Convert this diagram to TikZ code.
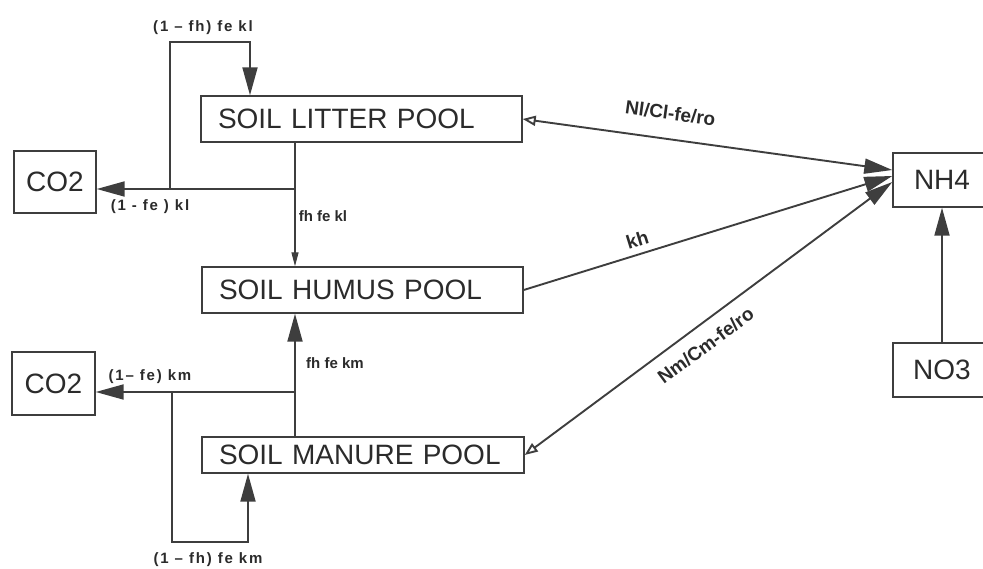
\documentclass[tikz,border=0pt]{standalone}
\usepackage{fontspec}
\setmainfont{Liberation Sans}
\usetikzlibrary{arrows.meta,calc}
\definecolor{InkGray}{RGB}{62,62,62}

\begin{document}
\begin{tikzpicture}[x=1pt, y=-1pt,
  box/.style={draw=InkGray, line width=1.4pt, inner sep=0pt, text=InkGray!70!black,
    font=\fontsize{28}{30}\selectfont},
  pool/.style={box, inner xsep=17pt, text width=287pt, align=left, minimum height=46pt},
  lbl/.style={text=InkGray!70!black, inner sep=0pt, font=\bfseries\fontsize{15}{18}\selectfont},
  wlbl/.style={lbl, font=\bfseries\fontsize{15}{18}\selectfont\addfontfeature{LetterSpace=12}},
  slbl/.style={text=InkGray!70!black, inner sep=0pt, sloped, font=\bfseries\fontsize{19}{22}\selectfont},
  line/.style={draw=InkGray, line width=1.9pt},
  flow/.style={line, -{Triangle[length=28pt,width=15pt]}},
  thinflow/.style={line, line width=1.3pt, -{Triangle[length=14pt,width=7pt]}},
  biflow/.style={line, {Triangle[open,length=13pt,width=10pt]}-{Triangle[length=28pt,width=15pt]}}
]
\clip (0,0) rectangle (983,569);

% pools
\node[pool] (litter) at (361.5,119) {SOIL LITTER POOL};
\node[pool] (humus) at (362.5,290) {SOIL HUMUS POOL};
\node[pool, text width=288pt, minimum height=36pt] (manure) at (363,455) {SOIL MANURE POOL};

% CO2 and nitrogen boxes
\node[box, minimum width=82pt, minimum height=62pt] (co2a) at (55,182) {CO2};
\node[box, minimum width=83pt, minimum height=63pt] (co2b) at (53.5,383.5) {CO2};
\node[box, minimum width=98pt, minimum height=54pt] (nh4) at (942,180) {NH4};
\node[box, minimum width=98pt, minimum height=54pt] (no3) at (942,370) {NO3};

% junctions
\coordinate (lj) at (295,189);
\coordinate (lk) at (170,189);
\coordinate (lt) at (250,42);
\coordinate (mj) at (295,392);
\coordinate (mk) at (172,392);
\coordinate (mb) at (248,542);

% litter decomposition
\draw[line] (litter.south -| lj) -- (lj);
\draw[thinflow] (lj) -- (humus.north -| lj);
\draw[flow] (lj) -- (co2a.east |- lj);
\draw[flow] (lk) |- (lt) -- (litter.north -| lt);

% manure decomposition
\draw[line] (manure.north -| mj) -- (mj);
\draw[flow] (mj) -- (humus.south -| mj);
\draw[flow] (mj) -- (co2b.east |- mj);
\draw[flow] (mk) |- (mb) -- (manure.south -| mb);

% nitrogen exchange
\draw[biflow] (litter.east) -- node[slbl, above=18pt, pos=0.39] (lnl) {Nl/Cl-fe/ro} ([yshift=10pt]nh4.west);
\draw[flow] (humus.east) -- node[slbl, above=7pt, pos=0.32] (lkh) {kh} ([yshift=4pt]nh4.west);
\draw[biflow] (manure.east) -- node[slbl, below=12pt, pos=0.46] (lnm) {Nm/Cm-fe/ro} ([yshift=-2pt]nh4.west);
\draw[flow] (no3) -- (nh4);

% rate labels
\node[wlbl] (l1) at (203,28) {(1 – fh) fe kl};
\node[wlbl] (l2) at (150,207) {(1 - fe ) kl};
\node[lbl] (l3) at (323,216) {fh fe kl};
\node[wlbl] (l4) at (150,377) {(1– fe) km};
\node[lbl] (l5) at (335,363) {fh fe km};
\node[wlbl] (l6) at (208,560) {(1 – fh) fe km};
\end{tikzpicture}
\end{document}
